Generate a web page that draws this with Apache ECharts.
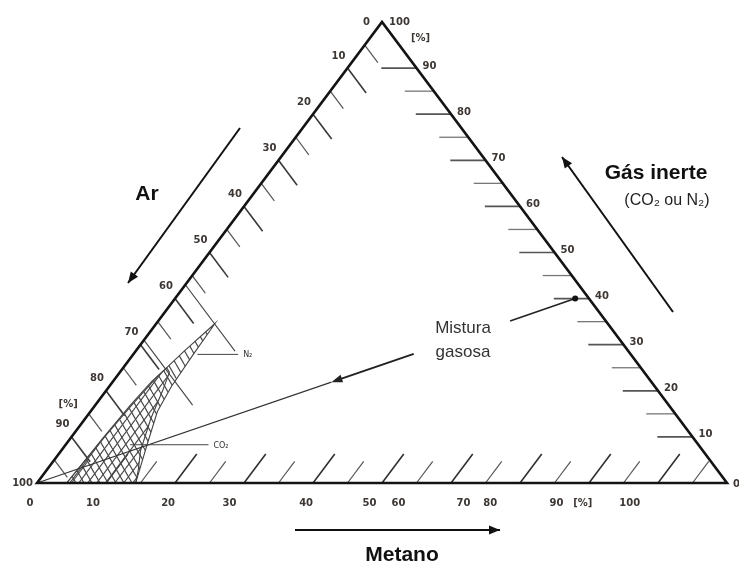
<!DOCTYPE html>
<html><head><meta charset="utf-8">
<script src="https://cdn.jsdelivr.net/npm/echarts@6/dist/echarts.min.js"></script>
<style>html,body{margin:0;padding:0;background:#fff}#c{width:739px;height:568px}</style>
</head><body><div id="c"></div>
<script>
// ---------- data (ternary: methane %, inert gas %, air = rest) ----------
const inertTicks = [10,15,20,25,30,35,40,45,50,55,60,65,70,75,80,85,90];
const arTicks = [5,10,15,20,25,30,35,40,45,50,55,60,65,70,75,80,85,90,95];
const methaneTicks = [5,10,15,20,25,30,35,40,45,50,55,60,65,70,75,80,85,90,95];
const inertLabelValues = [10,20,30,40,50,60,70,80,90];
const arLabelValues = [10,20,30,40,50,60,70,80,90];
const methaneLabels = ['0','10','20','30','40','50','60','70','80','90','[%]','100'];
const methaneLabelAt = [-1.0, 8.1, 19.0, 27.9, 39.0, 48.2, 52.4, 61.8, 65.7, 75.3, 79.1, 85.9];
// flammability regions [methane, inert]
const n2Region = [[4.3,0],[4.8,10],[5.3,17],[5.9,23],[7.0,28.5],[8.5,34.6],[8.7,28],[9.0,21],[9.7,15.5],[11.8,8.3],[13.4,3],[14.3,0]];
const co2Region = [[4.3,0],[4.7,10],[5.1,17],[5.6,22],[6.3,25],[7.2,24],[8.2,20],[9.5,14],[11.5,7],[13.2,3],[14.3,0]];
// constant-air lines through the region noses: air %, methane end
const locAir = [57, 69];
const locEnd = [14.4, 14.1];
// gas mixture point [methane, inert]
const mixture = [58, 40];
// leader lines for region labels: inert level, methane start, methane end
const leaderNames = ['N\u2082', 'CO\u2082'];
const leaderInert = [27.9, 8.3];
const leaderFrom = [9.3, 9.35];
const leaderTo = [15.2, 20.7];

// ---------- helpers ----------
const T = (m, g) => [m + g / 2, g];
function hatch(dir, w, h, color) {
  const c = document.createElement('canvas'); c.width = w; c.height = h;
  const ctx = c.getContext('2d'); ctx.strokeStyle = color; ctx.lineWidth = 1.2;
  ctx.beginPath();
  for (const off of [-w, 0, w]) {
    if (dir > 0) { ctx.moveTo(off, h); ctx.lineTo(off + w, 0); }
    else { ctx.moveTo(off, 0); ctx.lineTo(off + w, h); }
  }
  ctx.stroke();
  return c;
}
const patBack = { type: 'pattern', image: hatch(-1, 8, 14, '#4a4a4a'), repeat: 'repeat' };
const patFwd = { type: 'pattern', image: hatch(1, 9, 12, '#4a4a4a'), repeat: 'repeat' };
function head(tip, from, L, W, color) {
  const dx = tip[0] - from[0], dy = tip[1] - from[1];
  const len = Math.hypot(dx, dy), ux = dx / len, uy = dy / len;
  const bx = tip[0] - ux * L, by = tip[1] - uy * L;
  return { type: 'polygon', shape: { points: [tip, [bx - uy * W, by + ux * W], [bx + uy * W, by - ux * W]] }, style: { fill: color } };
}
const TICK_FONT = 'bold 10px "DejaVu Sans"';
const TICK_COLOR = '#3d3734';

function renderAll(params, api) {
  const P = (m, g) => api.coord(T(m, g));
  const kids = [];
  const seg = (a, b, c, w) => kids.push({ type: 'line', shape: { x1: a[0], y1: a[1], x2: b[0], y2: b[1] }, style: { stroke: c, lineWidth: w } });
  const txt = (p, s, dx, dy, align, font, color) => kids.push({ type: 'text', x: p[0] + dx, y: p[1] + dy,
    style: { text: s, font: font || TICK_FONT, fill: color || TICK_COLOR, textAlign: align || 'center', textVerticalAlign: 'middle' } });

  // ticks
  arTicks.forEach(a => { const maj = a % 10 === 0; const d = maj ? 5.4 : 3.8;
    seg(P(0, 100 - a), P(d, 100 - a - d), maj ? '#3a3a3a' : '#555', maj ? 1.6 : 1.2); });
  methaneTicks.forEach(m => { const maj = m % 10 === 0; const d = maj ? 6.3 : 4.7;
    seg(P(m, 0), P(m, d), maj ? '#2e2e2e' : '#555', maj ? 1.6 : 1.2); });
  inertTicks.forEach(g => { const maj = g % 10 === 0; const d = maj ? 5.1 : 4.2;
    seg(P(100 - g, g), P(100 - g - d, g), maj ? '#555' : '#777', maj ? 1.7 : 1.3); });

  // regions
  kids.push({ type: 'polygon', shape: { points: n2Region.map(p => P(p[0], p[1])) }, style: { fill: patBack, stroke: '#444', lineWidth: 1.1 } });
  kids.push({ type: 'polygon', shape: { points: co2Region.map(p => P(p[0], p[1])) }, style: { fill: patFwd, stroke: '#444', lineWidth: 1.1 } });

  // constant-air lines
  locAir.forEach((a, i) => seg(P(0, 100 - a), P(locEnd[i], 100 - a - locEnd[i]), '#444', 1.1));

  // mixture line from air vertex toward mixture point
  const M = t => P(mixture[0] * t, mixture[1] * t);
  seg(M(0), M(0.547), '#333', 1.1);
  seg(M(0.70), M(0.555), '#222', 2);
  kids.push(head(M(0.547), M(0.70), 11, 4, '#222'));
  seg(M(0.879), M(1), '#222', 1.6);
  const dot = M(1);
  kids.push({ type: 'circle', shape: { cx: dot[0], cy: dot[1], r: 3 }, style: { fill: '#111' } });

  // leaders
  leaderNames.forEach((n, i) => {
    const a = P(leaderFrom[i], leaderInert[i]), b = P(leaderTo[i], leaderInert[i]);
    seg(a, b, '#444', 1);
    txt(b, n, 5, 1, 'left', '8px "DejaVu Sans"', '#333');
  });

  // frame
  kids.push({ type: 'polygon', shape: { points: [P(0, 0), P(0, 100), P(100, 0)] }, style: { fill: 'none', stroke: '#141414', lineWidth: 2.6, lineJoin: 'miter' } });

  // labels
  inertLabelValues.forEach(g => txt(P(100 - g, g), String(g), 6, -2, 'left'));
  txt(P(0, 100), '100', 7, 0, 'left');
  txt(P(0, 100), '[%]', 29, 16, 'left');
  txt(P(100, 0), '0', 6, 1, 'left');
  arLabelValues.forEach(a => txt(P(0, 100 - a), String(a), -2, -12, 'right'));
  txt(P(0, 100), '0', -12, 0, 'right');
  txt(P(0, 0), '100', -4, 0, 'right');
  txt(P(0, 15), '[%]', -11, -9, 'right');
  methaneLabels.forEach((s, i) => txt(P(methaneLabelAt[i], 0), s, 0, 20, 'center'));

  return { type: 'group', children: kids };
}

function arrowGraphic(x1, y1, x2, y2) {
  return [
    { type: 'line', shape: { x1, y1, x2, y2 }, style: { stroke: '#111', lineWidth: 2 }, silent: true },
    Object.assign(head([x2, y2], [x1, y1], 11, 4.5, '#111'), { silent: true })
  ];
}
const TITLE_FONT = 'bold 21px "Liberation Sans"';
const graphics = [].concat(
  arrowGraphic(240, 128, 128, 283),
  arrowGraphic(673, 312, 562, 157),
  arrowGraphic(295, 530, 500, 530),
  [
    { type: 'text', x: 147, y: 194, style: { text: 'Ar', font: TITLE_FONT, fill: '#111', textAlign: 'center', textVerticalAlign: 'middle' } },
    { type: 'text', x: 656, y: 173, style: { text: 'Gás inerte', font: TITLE_FONT, fill: '#111', textAlign: 'center', textVerticalAlign: 'middle' } },
    { type: 'text', x: 667, y: 201, style: { text: '(CO\u2082 ou N\u2082)', font: '16px "Liberation Sans", "DejaVu Sans"', fill: '#222', textAlign: 'center', textVerticalAlign: 'middle' } },
    { type: 'text', x: 402, y: 555, style: { text: 'Metano', font: TITLE_FONT, fill: '#111', textAlign: 'center', textVerticalAlign: 'middle' } },
    { type: 'text', x: 463, y: 328, style: { text: 'Mistura', font: '17px "Liberation Sans"', fill: '#333', textAlign: 'center', textVerticalAlign: 'middle' } },
    { type: 'text', x: 463, y: 352, style: { text: 'gasosa', font: '17px "Liberation Sans"', fill: '#333', textAlign: 'center', textVerticalAlign: 'middle' } }
  ]
);

const chart = echarts.init(document.getElementById('c'));
chart.setOption({
  animation: false,
  backgroundColor: '#fff',
  grid: { left: 37, right: 12, top: 22, bottom: 85 },
  xAxis: { type: 'value', min: 0, max: 100, show: false },
  yAxis: { type: 'value', min: 0, max: 100, show: false },
  graphic: { elements: graphics },
  series: [{
    type: 'custom', coordinateSystem: 'cartesian2d', clip: false, silent: true,
    data: [[0, 0]], renderItem: renderAll
  }]
});
</script></body></html>
